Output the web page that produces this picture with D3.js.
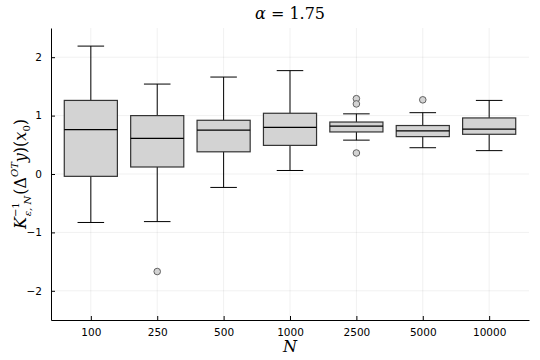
<!DOCTYPE html>
<html><head><meta charset="utf-8">
<script src="https://cdn.jsdelivr.net/npm/d3@7"></script>
<style>body{margin:0;background:#fff}svg{display:block}</style>
</head><body>
<script>
const categories = ["100","250","500","1000","2500","5000","10000"];
const whiskerLow  = [-0.83,-0.815,-0.23,0.06,0.58,0.45,0.40];
const q1          = [-0.04,0.12,0.38,0.49,0.72,0.64,0.68];
const medians     = [0.76,0.61,0.75,0.80,0.82,0.74,0.77];
const q3          = [1.26,1.00,0.92,1.04,0.89,0.83,0.96];
const whiskerHigh = [2.19,1.54,1.66,1.77,1.03,1.05,1.26];
const outliers    = [[],[-1.67],[],[],[1.29,1.20,0.36],[1.27],[]];
const yTicks = [-2,-1,0,1,2];

(function(){
const W=540,H=360;
const svg=d3.select("body").append("svg").attr("width",W).attr("height",H);
const pL=51,pR=529,pT=28,pB=320;
const x=d3.scaleLinear().domain([0.4,categories.length+0.6]).range([pL,pR]);
const y=d3.scaleLinear().domain([-2.5,2.5]).range([pB,pT]);

// grid
const g=svg.append("g");
g.selectAll(".vg").data(categories).join("line")
 .attr("x1",(d,i)=>x(i+1)).attr("x2",(d,i)=>x(i+1)).attr("y1",pT).attr("y2",pB)
 .attr("stroke","#000").attr("stroke-opacity",0.1).attr("stroke-width",0.6);
g.selectAll(".hg").data(yTicks).join("line")
 .attr("x1",pL).attr("x2",pR).attr("y1",d=>y(d)).attr("y2",d=>y(d))
 .attr("stroke","#000").attr("stroke-opacity",0.1).attr("stroke-width",0.6);

// axes
const xAxis=d3.axisBottom(x).tickValues(categories.map((d,i)=>i+1)).tickFormat((d,i)=>categories[i]).tickSizeInner(-4).tickSizeOuter(0).tickPadding(9);
const yAxis=d3.axisLeft(y).tickValues(yTicks).tickFormat(d=>d<0?"\u2212"+Math.abs(d):d).tickSizeInner(-4).tickSizeOuter(0).tickPadding(9);
const ax=svg.append("g").attr("transform",`translate(0,${pB})`).call(xAxis);
const ay=svg.append("g").attr("transform",`translate(${pL},0)`).call(yAxis);
[ax,ay].forEach(a=>{a.attr("font-family",null).attr("font-size",null);
 a.selectAll("text").style("font-family","'DejaVu Sans', sans-serif").style("font-size","10.5px").attr("fill","#000");
 a.select(".domain").attr("stroke","#000").attr("stroke-width",1);
 a.selectAll(".tick line").attr("stroke","#000");});

// boxes
const bw=0.8, cw=0.4;
const boxes=svg.append("g");
categories.forEach((c,i)=>{
  const cx=i+1;
  const gb=boxes.append("g");
  gb.append("line").attr("x1",x(cx)).attr("x2",x(cx)).attr("y1",y(q3[i])).attr("y2",y(whiskerHigh[i])).attr("stroke","#000").attr("stroke-width",1);
  gb.append("line").attr("x1",x(cx)).attr("x2",x(cx)).attr("y1",y(q1[i])).attr("y2",y(whiskerLow[i])).attr("stroke","#000").attr("stroke-width",1);
  gb.append("line").attr("x1",x(cx-cw/2)).attr("x2",x(cx+cw/2)).attr("y1",y(whiskerHigh[i])).attr("y2",y(whiskerHigh[i])).attr("stroke","#000").attr("stroke-width",1);
  gb.append("line").attr("x1",x(cx-cw/2)).attr("x2",x(cx+cw/2)).attr("y1",y(whiskerLow[i])).attr("y2",y(whiskerLow[i])).attr("stroke","#000").attr("stroke-width",1);
  gb.append("rect").attr("x",x(cx-bw/2)).attr("width",x(cx+bw/2)-x(cx-bw/2))
    .attr("y",y(q3[i])).attr("height",y(q1[i])-y(q3[i]))
    .attr("fill","#d3d3d3").attr("stroke","#333").attr("stroke-width",1.2);
  gb.append("line").attr("x1",x(cx-bw/2)).attr("x2",x(cx+bw/2)).attr("y1",y(medians[i])).attr("y2",y(medians[i])).attr("stroke","#000").attr("stroke-width",1.2);
  gb.selectAll("circle").data(outliers[i]).join("circle").attr("cx",x(cx)).attr("cy",d=>y(d)).attr("r",3.3)
    .attr("fill","#d3d3d3").attr("stroke","#555").attr("stroke-width",0.9);
});

// title
const title=svg.append("text").attr("x",(pL+pR)/2).attr("y",19).attr("text-anchor","middle")
 .style("font-family","'DejaVu Serif', serif").style("font-size","16px");
title.append("tspan").attr("font-style","italic").text("\u03B1");
title.append("tspan").text(" = 1.75");

// x label
svg.append("text").attr("x",(pL+pR)/2).attr("y",352).attr("text-anchor","middle")
 .style("font-family","'DejaVu Serif', serif").attr("font-style","italic").style("font-size","16px").text("N");

// y label
const yl=svg.append("text").attr("transform","translate(26,174) rotate(-90)").attr("text-anchor","middle")
 .style("font-family","'DejaVu Serif', serif").style("font-size","16px");
yl.append("tspan").attr("font-style","italic").text("K");
yl.append("tspan").style("font-size","10px").attr("dy",-7).text("\u22121");
yl.append("tspan").style("font-size","10px").attr("font-style","italic").attr("dx",-14).attr("dy",12).text("\u03B5, N");
yl.append("tspan").attr("dy",-5).attr("dx",1).text("(\u0394");
yl.append("tspan").style("font-size","10px").attr("font-style","italic").attr("dy",-8).text("OT");
yl.append("tspan").attr("font-style","italic").attr("dy",8).text("y");
yl.append("tspan").text(")(");
yl.append("tspan").attr("font-style","italic").text("x");
yl.append("tspan").style("font-size","10px").attr("dy",4).text("0");
yl.append("tspan").attr("dy",-4).text(")");
})();
</script>
</body></html>
